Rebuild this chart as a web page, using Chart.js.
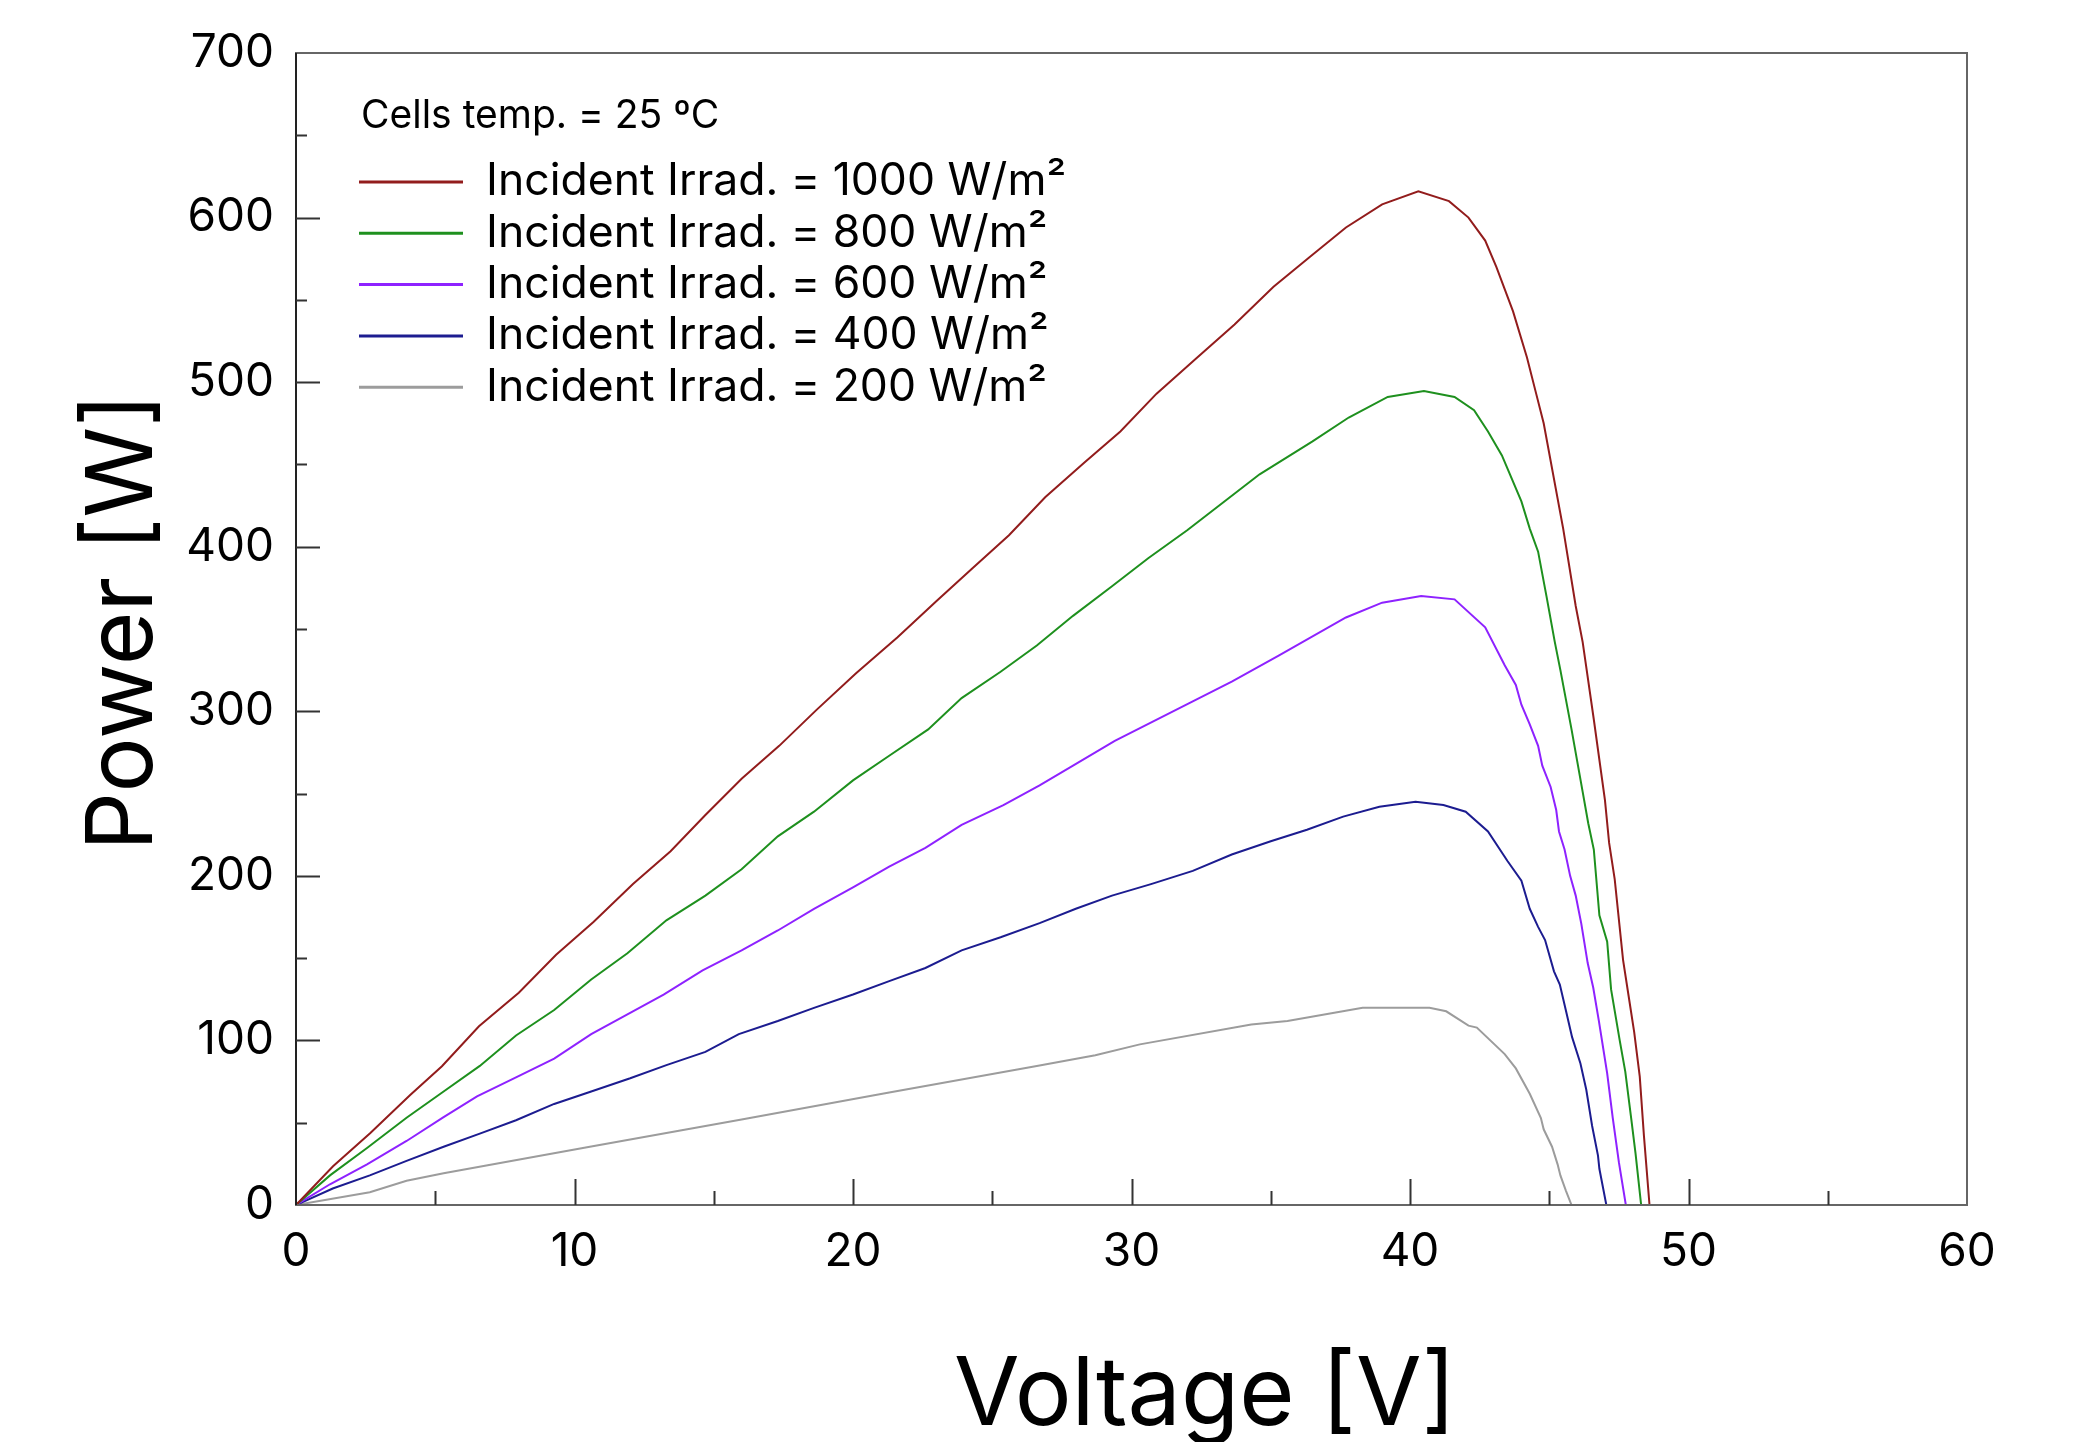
<!DOCTYPE html>
<html>
<head>
<meta charset="utf-8">
<script src="https://cdn.jsdelivr.net/npm/chart.js@4.4.1/dist/chart.umd.min.js"></script>
<style>
  html, body { margin: 0; padding: 0; background: #fff; }
  #wrap { width: 2073px; height: 1442px; }
</style>
</head>
<body>
<div id="wrap"><canvas id="pv" width="2073" height="1442"></canvas></div>
<script>
// P-V curves, one voltage/power pair per irradiance
const vRed = [0, 1.33, 2.67, 4.1, 5.24, 6.57, 8.0, 9.34, 10.68, 12.1, 13.45, 14.7, 16.0, 17.35, 18.7, 20.1, 21.6, 23.0, 24.3, 25.6, 26.9, 28.3, 29.6, 30.9, 32.3, 33.7, 35.1, 36.4, 37.7, 39.0, 40.3, 41.4, 42.1, 42.7, 43.1, 43.7, 44.2, 44.5, 44.8, 45.5, 45.95, 46.2, 46.6, 47.0, 47.15, 47.35, 47.65, 47.85, 48.05, 48.25, 48.4, 48.6];
const pRed = [0, 23.5, 43.8, 66.8, 84.3, 108.6, 129, 152, 172, 195, 215, 237, 259, 279, 301, 323, 345, 367, 387, 407, 430, 451, 470, 493, 514, 535, 558, 576, 594, 608, 616, 610, 600, 586, 570, 543, 515, 495, 475, 411, 364, 342, 295, 246, 220, 198, 149, 127, 105, 78, 42, 0];

const vGreen = [0, 1.22, 2.55, 3.97, 5.3, 6.6, 7.9, 9.27, 10.6, 11.9, 13.3, 14.7, 16.0, 17.3, 18.6, 20.0, 21.3, 22.7, 23.9, 25.3, 26.6, 27.9, 29.3, 30.6, 32.0, 33.3, 34.6, 36.5, 37.8, 39.2, 40.5, 41.6, 42.3, 42.8, 43.3, 44.0, 44.3, 44.6, 44.9, 45.2, 45.4, 45.8, 46.0, 46.2, 46.4, 46.6, 46.8, 47.08, 47.22, 47.53, 47.73, 47.94, 48.1, 48.3];
const pGreen = [0, 18, 34.6, 53, 69, 84.5, 103, 118.5, 137, 153, 173, 188, 204, 224, 239, 258, 273, 289, 308, 324, 340, 358, 376, 393, 410, 427, 444, 464, 478.5, 491, 494.6, 491, 483, 470, 455.5, 427.5, 411, 397, 370, 342, 325, 289, 270, 251, 232, 216, 176, 160, 131, 100, 81, 53, 31, 0];

const vPurple = [0, 1.22, 2.55, 3.97, 5.3, 6.5, 7.9, 9.27, 10.6, 11.9, 13.2, 14.6, 16.0, 17.3, 18.6, 20.0, 21.3, 22.6, 23.9, 25.4, 26.7, 27.9, 29.4, 30.8, 32.2, 33.6, 35.3, 37.7, 39.0, 40.4, 41.6, 42.7, 43.4, 43.8, 44.0, 44.3, 44.6, 44.75, 45.05, 45.25, 45.35, 45.55, 45.75, 45.95, 46.15, 46.38, 46.58, 46.78, 47.08, 47.28, 47.5, 47.75];
const pPurple = [0, 12.6, 24.7, 38.9, 53.4, 66, 77.5, 89, 103.8, 115.8, 127.9, 142.6, 154.7, 166.8, 180, 193, 205.6, 217, 231, 243, 255, 267, 282, 294, 306, 318, 334, 357, 366, 370, 368, 351, 328, 316, 304, 292, 279, 267, 254, 240, 227, 216, 200, 188, 171, 147, 132, 112, 80, 53, 26, 0];

const vBlue = [0, 1.32, 2.65, 3.97, 5.3, 6.6, 7.9, 9.27, 10.6, 12.0, 13.3, 14.7, 15.9, 17.3, 18.6, 20.0, 21.3, 22.6, 23.9, 25.3, 26.7, 28.0, 29.3, 30.7, 32.2, 33.6, 35.0, 36.3, 37.6, 38.9, 40.2, 41.2, 42.0, 42.8, 43.5, 44.0, 44.3, 44.6, 44.85, 45.17, 45.38, 45.6, 45.82, 46.12, 46.33, 46.54, 46.75, 46.8, 47.05];
const pBlue = [0, 10, 18, 26.8, 35.4, 43.4, 51.5, 61.4, 69, 77, 85, 93, 103.8, 111.8, 119.8, 127.9, 136, 144, 154.7, 162.7, 171.3, 180, 188, 195, 203, 213, 221, 228, 236, 242, 245, 243, 239, 227, 209, 197, 180, 169, 161, 142, 134, 118, 102, 86, 70, 48, 30, 22, 0];

const vGray = [0, 2.65, 3.97, 5.3, 10.6, 16.0, 21.3, 26.6, 28.7, 30.3, 34.3, 35.6, 38.3, 40.7, 41.3, 42.1, 42.4, 43.4, 43.8, 44.3, 44.7, 44.8, 45.1, 45.3, 45.4, 45.6, 45.8];
const pGray = [0, 7.8, 14.7, 19.3, 35.5, 52, 68.3, 84.5, 91, 97.6, 109.7, 111.8, 119.8, 119.8, 117.7, 109, 107.8, 91.7, 83, 67.6, 52.8, 46, 35.4, 24.7, 18, 8.6, 0];

const seriesLabels = ['Incident Irrad. = 1000 W/m²', 'Incident Irrad. = 800 W/m²', 'Incident Irrad. = 600 W/m²', 'Incident Irrad. = 400 W/m²', 'Incident Irrad. = 200 W/m²'];
const seriesColors = ['#921c1c', '#1e901e', '#8e22ff', '#1c1c90', '#9c9c9c'];
const legendTitle = 'Cells temp. = 25 ºC';
const xTitle = 'Voltage [V]';
const yTitle = 'Power [W]';
const xMax = 60, xStep = 10;
const yMax = 700, yStep = 100;

const FONT = 'Inter, "Noto Sans", sans-serif';

function pts(v, p) { return v.map((x, i) => ({ x: x, y: p[i] })); }

const curves = [pts(vRed, pRed), pts(vGreen, pGreen), pts(vPurple, pPurple), pts(vBlue, pBlue), pts(vGray, pGray)];

// frame, inward ticks, axis titles and the in-plot legend
const decorations = {
  id: 'decorations',
  afterDraw(chart) {
    const c = chart.ctx, a = chart.chartArea;
    const xs = chart.scales.x, ys = chart.scales.y;
    c.save();

    c.lineWidth = 2;
    c.strokeStyle = '#666';
    c.strokeRect(a.left, a.top, a.right - a.left, a.bottom - a.top);
    c.strokeStyle = '#222';
    c.beginPath();
    c.moveTo(a.left, a.top);
    c.lineTo(a.left, a.bottom);
    c.stroke();

    c.strokeStyle = '#333';
    c.beginPath();
    for (let v = xStep / 2; v < xMax; v += xStep / 2) {
      const px = Math.round(xs.getPixelForValue(v)) + 0.5;
      const len = v % xStep === 0 ? 26 : 14;
      c.moveTo(px, a.bottom);
      c.lineTo(px, a.bottom - len);
    }
    for (let v = yStep / 2; v < yMax; v += yStep / 2) {
      const py = Math.round(ys.getPixelForValue(v)) + 0.5;
      const len = v % yStep === 0 ? 24 : 11;
      c.moveTo(a.left, py);
      c.lineTo(a.left + len, py);
    }
    c.stroke();

    c.fillStyle = '#000';
    c.textAlign = 'center';
    c.textBaseline = 'middle';
    c.font = '95px ' + FONT;
    c.fillText(xTitle, 1205, 1396);
    c.save();
    c.font = '92px ' + FONT;
    c.translate(124, 622);
    c.rotate(-Math.PI / 2);
    c.fillText(yTitle, 0, 0);
    c.restore();

    c.textAlign = 'left';
    c.font = '39px ' + FONT;
    c.fillText(legendTitle, 361, 116);
    chart.data.datasets.forEach((ds, i) => {
      const y = 182 + i * 51.3;
      c.strokeStyle = ds.borderColor;
      c.lineWidth = 3;
      c.beginPath();
      c.moveTo(359, y);
      c.lineTo(463, y);
      c.stroke();
      c.font = '44.5px ' + FONT;
      c.fillText(ds.label, 486, y);
    });
    c.restore();
  }
};

new Chart(document.getElementById('pv'), {
  type: 'scatter',
  data: {
    datasets: curves.map((d, i) => ({
      label: seriesLabels[i],
      data: d,
      showLine: true,
      borderColor: seriesColors[i],
      backgroundColor: seriesColors[i],
      borderWidth: 2,
      pointRadius: 0,
      tension: 0
    }))
  },
  options: {
    responsive: false,
    devicePixelRatio: 1,
    animation: false,
    layout: { padding: { top: 53, right: 106, left: 0, bottom: 0 } },
    plugins: { legend: { display: false }, tooltip: { enabled: false } },
    scales: {
      x: {
        type: 'linear', min: 0, max: xMax,
        grid: { display: false }, border: { display: false },
        ticks: { stepSize: xStep, color: '#000', padding: 12, font: { size: 46, family: FONT } },
        afterFit: s => { s.height = 237; }
      },
      y: {
        type: 'linear', min: 0, max: yMax,
        grid: { display: false }, border: { display: false },
        ticks: { stepSize: yStep, color: '#000', padding: 14, font: { size: 46, family: FONT } },
        afterFit: s => { s.width = 296; }
      }
    }
  },
  plugins: [decorations]
});
</script>
</body>
</html>
